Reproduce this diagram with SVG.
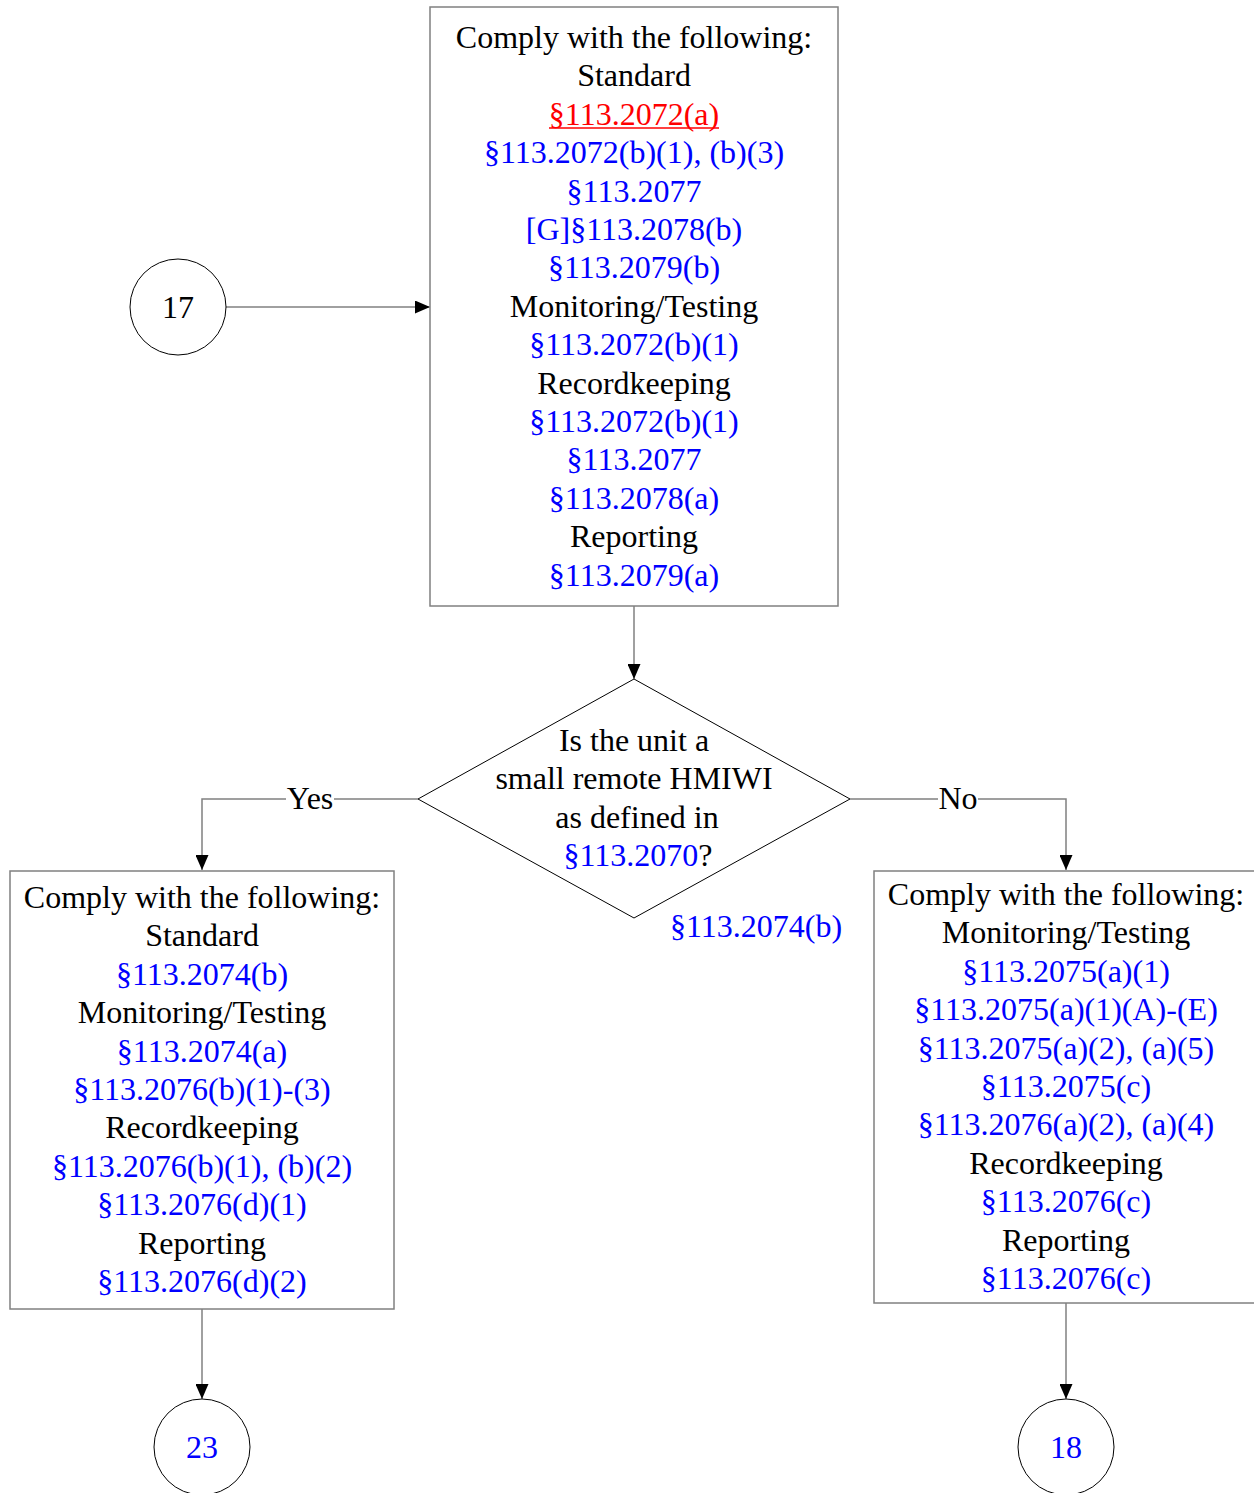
<svg xmlns="http://www.w3.org/2000/svg" width="1254" height="1493" viewBox="0 0 1254 1493">
<style>
text{font-family:"Liberation Serif","Times New Roman",serif;font-size:32px;text-anchor:middle;fill:#000}
.b{fill:#0000FF}
.r{fill:#FF0000}
.box{fill:#fff;stroke:#808080;stroke-width:1.5}
.shape{fill:#fff;stroke:#000;stroke-width:1}
.conn{fill:none;stroke:#808080;stroke-width:1.5}
</style>
<defs>
<marker id="ah" markerWidth="15" markerHeight="13" refX="15" refY="6.5" orient="auto" markerUnits="userSpaceOnUse">
<path d="M0,0 L15,6.5 L0,13 Z" fill="#000"/>
</marker>
</defs>
<rect width="1254" height="1493" fill="#fff"/>
<g id="connectors">
<line class="conn" x1="226" y1="307" x2="430" y2="307" marker-end="url(#ah)"/>
<line class="conn" x1="634" y1="606" x2="634" y2="679" marker-end="url(#ah)"/>
<polyline class="conn" points="418,799 202,799 202,870" marker-end="url(#ah)"/>
<polyline class="conn" points="850,799 1066,799 1066,870" marker-end="url(#ah)"/>
<line class="conn" x1="202" y1="1309" x2="202" y2="1399" marker-end="url(#ah)"/>
<line class="conn" x1="1066" y1="1303" x2="1066" y2="1399" marker-end="url(#ah)"/>
<rect x="286" y="783" width="48" height="32" fill="#fff"/>
<text x="310" y="809">Yes</text>
<rect x="938" y="783" width="40" height="32" fill="#fff"/>
<text x="958" y="809">No</text>
</g>
<g id="n17">
<circle class="shape" cx="178" cy="307" r="48"/>
<text x="178" y="318">17</text>
</g>
<g id="top">
<rect class="box" x="430" y="7" width="408" height="599"/>
<text x="634" y="48">Comply with the following:</text>
<text x="634" y="86.4">Standard</text>
<text x="634" y="124.8" class="r">§113.2072(a)</text>
<line x1="549" y1="128" x2="719" y2="128" stroke="#FF0000" stroke-width="1.6"/>
<text x="634" y="163.2" class="b">§113.2072(b)(1), (b)(3)</text>
<text x="634" y="201.6" class="b">§113.2077</text>
<text x="634" y="240" class="b">[G]§113.2078(b)</text>
<text x="634" y="278.4" class="b">§113.2079(b)</text>
<text x="634" y="316.8">Monitoring/Testing</text>
<text x="634" y="355.2" class="b">§113.2072(b)(1)</text>
<text x="634" y="393.6">Recordkeeping</text>
<text x="634" y="432" class="b">§113.2072(b)(1)</text>
<text x="634" y="470.4" class="b">§113.2077</text>
<text x="634" y="508.8" class="b">§113.2078(a)</text>
<text x="634" y="547.2">Reporting</text>
<text x="634" y="585.6" class="b">§113.2079(a)</text>
</g>
<g id="decision">
<polygon class="shape" points="634,679 850,799 634,918 418,799"/>
<text x="634" y="751">Is the unit a</text>
<text x="634" y="789">small remote HMIWI</text>
<text x="637" y="828">as defined in</text>
<text x="638" y="866"><tspan class="b">§113.2070</tspan>?</text>
<text x="756" y="937" class="b">§113.2074(b)</text>
</g>
<g id="left">
<rect class="box" x="10" y="871" width="384" height="438"/>
<text x="202" y="908">Comply with the following:</text>
<text x="202" y="946.4">Standard</text>
<text x="202" y="984.8" class="b">§113.2074(b)</text>
<text x="202" y="1023.2">Monitoring/Testing</text>
<text x="202" y="1061.6" class="b">§113.2074(a)</text>
<text x="202" y="1100" class="b">§113.2076(b)(1)-(3)</text>
<text x="202" y="1138.4">Recordkeeping</text>
<text x="202" y="1176.8" class="b">§113.2076(b)(1), (b)(2)</text>
<text x="202" y="1215.2" class="b">§113.2076(d)(1)</text>
<text x="202" y="1253.6">Reporting</text>
<text x="202" y="1292" class="b">§113.2076(d)(2)</text>
</g>
<g id="right">
<rect class="box" x="874" y="871" width="390" height="432"/>
<text x="1066" y="905">Comply with the following:</text>
<text x="1066" y="943.4">Monitoring/Testing</text>
<text x="1066" y="981.8" class="b">§113.2075(a)(1)</text>
<text x="1066" y="1020.2" class="b">§113.2075(a)(1)(A)-(E)</text>
<text x="1066" y="1058.6" class="b">§113.2075(a)(2), (a)(5)</text>
<text x="1066" y="1097" class="b">§113.2075(c)</text>
<text x="1066" y="1135.4" class="b">§113.2076(a)(2), (a)(4)</text>
<text x="1066" y="1173.8">Recordkeeping</text>
<text x="1066" y="1212.2" class="b">§113.2076(c)</text>
<text x="1066" y="1250.6">Reporting</text>
<text x="1066" y="1289" class="b">§113.2076(c)</text>
</g>
<g id="n23">
<circle class="shape" cx="202" cy="1447" r="48"/>
<text x="202" y="1458" class="b">23</text>
</g>
<g id="n18">
<circle class="shape" cx="1066" cy="1447" r="48"/>
<text x="1066" y="1458" class="b">18</text>
</g>
</svg>
